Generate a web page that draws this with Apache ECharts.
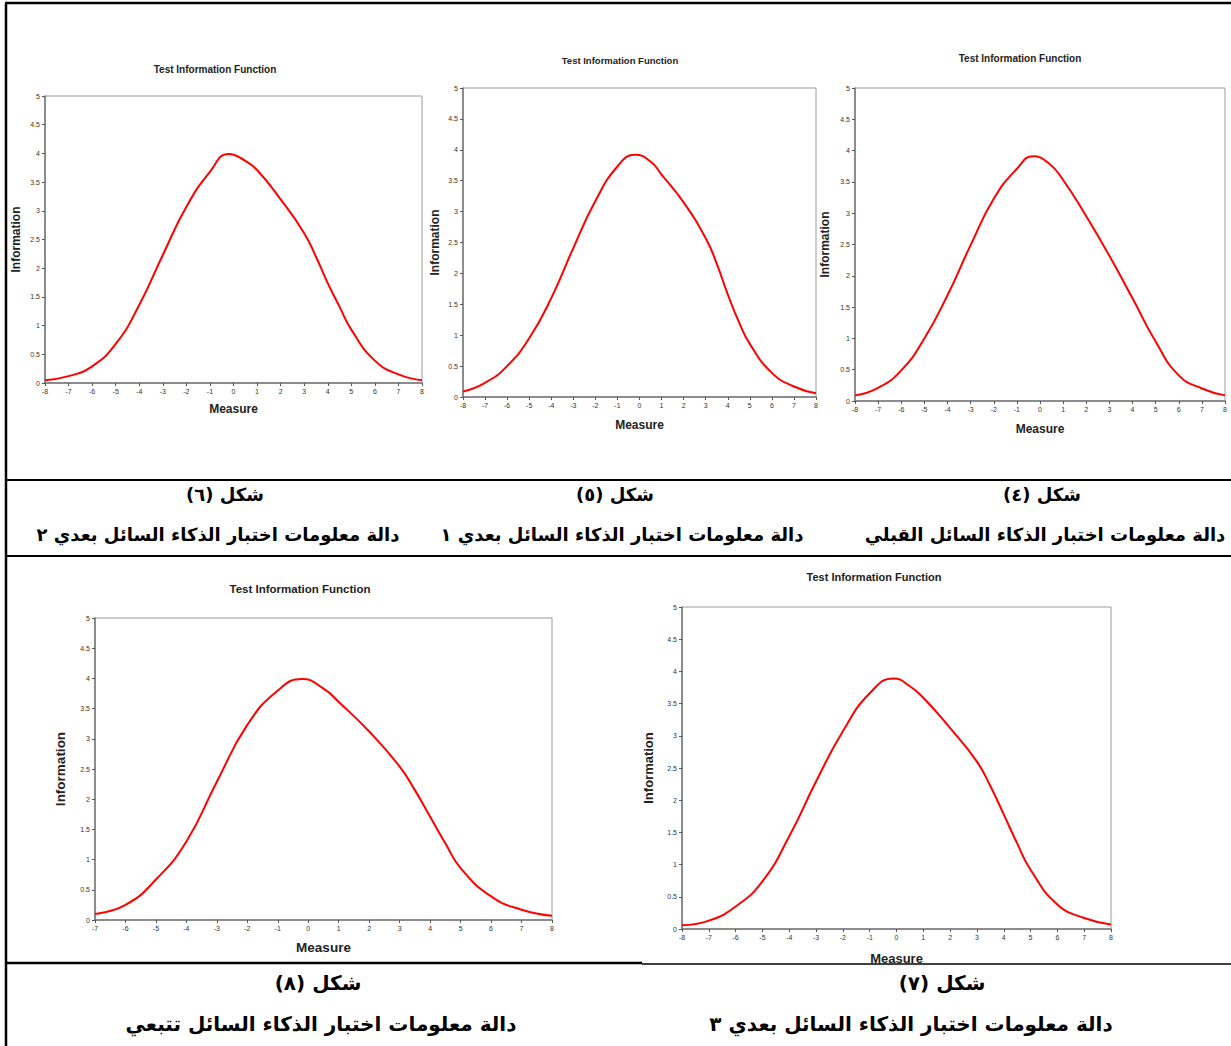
<!DOCTYPE html>
<html>
<head>
<meta charset="utf-8">
<title>Test Information Function</title>
<script src="https://cdn.jsdelivr.net/npm/echarts@6/dist/echarts.min.js"></script>
<style>
  html, body { margin: 0; padding: 0; background: #fff; }
  #chart { width: 1231px; height: 1046px; }
</style>
</head>
<body>
<div id="chart"></div>
<script>
// values, one pair of arrays per figure
var measure6 = [-8, -7, -6, -5, -4, -3, -2, -1, -0.2, 0.5, 1, 2, 3, 3.5, 4, 4.5, 5, 6, 7, 8];
var info6    = [0.05, 0.12, 0.29, 0.68, 1.36, 2.23, 3.07, 3.68, 3.99, 3.87, 3.71, 3.20, 2.61, 2.20, 1.74, 1.33, 0.93, 0.39, 0.15, 0.05];

var measure5 = [-8, -7, -6, -5, -4, -3, -2, -1, -0.2, 0.5, 1, 2, 3, 3.5, 4, 4.5, 5, 6, 7, 8];
var info5    = [0.09, 0.23, 0.50, 0.95, 1.60, 2.41, 3.17, 3.73, 3.92, 3.81, 3.60, 3.15, 2.57, 2.16, 1.66, 1.22, 0.86, 0.39, 0.17, 0.06];

var measure4 = [-8, -7, -6, -5, -4, -3, -2, -1, -0.3, 0.4, 1, 2, 3, 4, 5, 6, 7, 8];
var info4    = [0.09, 0.21, 0.49, 1.00, 1.69, 2.49, 3.23, 3.71, 3.91, 3.79, 3.53, 2.95, 2.32, 1.64, 0.95, 0.41, 0.20, 0.09];

var measure8 = [-7, -6, -5, -4, -3, -2, -1, -0.2, 0.5, 1, 2, 3, 3.5, 4, 4.5, 5, 6, 7, 8];
var info8    = [0.10, 0.25, 0.67, 1.30, 2.29, 3.23, 3.80, 3.99, 3.83, 3.61, 3.12, 2.54, 2.15, 1.71, 1.27, 0.86, 0.39, 0.17, 0.07];

var measure7 = [-8, -7, -6, -5, -4, -3, -2, -1, -0.1, 0.5, 1, 2, 3, 3.5, 4, 4.5, 5, 6, 7, 8];
var info7    = [0.06, 0.13, 0.35, 0.74, 1.44, 2.29, 3.07, 3.66, 3.89, 3.77, 3.59, 3.12, 2.60, 2.22, 1.78, 1.33, 0.92, 0.38, 0.17, 0.07];

// axis ranges
var yMin = 0, yMax = 5, yStep = 0.5;
var xMinList = [-8, -8, -8, -7, -8];
var xMax = 8;

// captions (figure number, description)
var figNames = ['شكل (٦)', 'شكل (٥)', 'شكل (٤)', 'شكل (٨)', 'شكل (٧)'];
var figTexts = [
    'دالة معلومات اختبار الذكاء السائل بعدي ٢',
    'دالة معلومات اختبار الذكاء السائل بعدي ١',
    'دالة معلومات اختبار الذكاء السائل القبلي',
    'دالة معلومات اختبار الذكاء السائل تتبعي',
    'دالة معلومات اختبار الذكاء السائل بعدي ٣'
];

var chartTitle = 'Test Information Function';
var xName = 'Measure';
var yName = 'Information';

// layout of each panel
var panels = [
    {grid: [45, 96, 377, 287],  title: [215, 70, 10],  xGap: 20, yGap: 23, nameSize: 12, capSize: 18, cap: [225, 494, 218, 534]},
    {grid: [463, 88, 353, 309], title: [620, 61, 9.5], xGap: 22, yGap: 22, nameSize: 12, capSize: 18, cap: [615, 494, 622, 534]},
    {grid: [855, 88, 370, 313], title: [1020, 59, 10], xGap: 22, yGap: 24, nameSize: 12, capSize: 18, cap: [1042, 494, 1045, 534]},
    {grid: [95, 618, 457, 302], title: [300, 590, 11.5], xGap: 20, yGap: 28, nameSize: 13.5, capSize: 20, cap: [318, 983, 321, 1024]},
    {grid: [682, 607, 429, 322], title: [874, 578, 11], xGap: 23, yGap: 27, nameSize: 13, capSize: 20, cap: [942, 983, 911, 1024]}
];
var measures = [measure6, measure5, measure4, measure8, measure7];
var infos = [info6, info5, info4, info8, info7];

// keep the Arabic captions in right-to-left order
function rtl(s) {
    return '\u202B' + s + '\u202C';
}

var myChart = echarts.init(document.getElementById('chart'), null, {renderer: 'svg'});

var grids = [], xAxes = [], yAxes = [], series = [], titles = [], graphics = [];

panels.forEach(function (p, i) {
    grids.push({
        left: p.grid[0], top: p.grid[1], width: p.grid[2], height: p.grid[3],
        show: true, borderColor: '#9a9a9a', borderWidth: 1, backgroundColor: '#fff'
    });
    xAxes.push({
        gridIndex: i, type: 'value', min: xMinList[i], max: xMax, interval: 1,
        name: xName, nameLocation: 'middle', nameGap: p.xGap,
        nameTextStyle: {fontFamily: 'Liberation Sans', fontWeight: 'bold', fontSize: p.nameSize, color: '#222'},
        axisLine: {show: true, onZero: false, lineStyle: {color: '#777', width: 1.5}},
        axisTick: {show: true, inside: false, length: 3, lineStyle: {color: '#555'}},
        axisLabel: {fontFamily: 'Liberation Sans', fontSize: 7, color: '#333', margin: 5},
        splitLine: {show: false}
    });
    yAxes.push({
        gridIndex: i, type: 'value', min: yMin, max: yMax, interval: yStep,
        name: yName, nameLocation: 'middle', nameGap: p.yGap,
        nameTextStyle: {fontFamily: 'Liberation Sans', fontWeight: 'bold', fontSize: p.nameSize, color: '#222'},
        axisLine: {show: true, onZero: false, lineStyle: {color: '#777', width: 1.5}},
        axisTick: {show: true, inside: false, length: 3, lineStyle: {color: '#555'}},
        axisLabel: {fontFamily: 'Liberation Sans', fontSize: 7, color: '#333', margin: 5},
        splitLine: {show: false}
    });
    series.push({
        type: 'line', xAxisIndex: i, yAxisIndex: i,
        data: measures[i].map(function (m, k) { return [m, infos[i][k]]; }),
        smooth: 0.5, showSymbol: false,
        lineStyle: {color: '#ff0000', width: 2}
    });
    titles.push({
        text: chartTitle, left: p.title[0], top: p.title[1] - p.title[2] / 2 - 1, textAlign: 'center', padding: 0,
        textStyle: {fontFamily: 'Liberation Sans', fontWeight: 'bold', fontSize: p.title[2], color: '#222'}
    });
    graphics.push({
        type: 'text', x: p.cap[0], y: p.cap[1],
        style: {text: rtl(figNames[i]), align: 'center', verticalAlign: 'middle',
                fontFamily: '"DejaVu Sans", sans-serif', fontWeight: 'bold', fontSize: p.capSize, fill: '#000'}
    });
    graphics.push({
        type: 'text', x: p.cap[2], y: p.cap[3],
        style: {text: rtl(figTexts[i]), align: 'center', verticalAlign: 'middle',
                fontFamily: '"DejaVu Sans", sans-serif', fontWeight: 'bold', fontSize: p.capSize, fill: '#000'}
    });
});

// table ruling
var rules = [
    [6, 3, 6, 1046, 2.5],
    [5, 3, 1231, 3, 2.5],
    [5, 480, 1231, 480, 2],
    [5, 556, 1231, 556, 2],
    [5, 963, 642, 963, 2.5],
    [642, 964, 1231, 964, 1.5]
];
rules.forEach(function (r) {
    graphics.push({
        type: 'line', z: 100,
        shape: {x1: r[0], y1: r[1], x2: r[2], y2: r[3]},
        style: {stroke: '#000', lineWidth: r[4]}
    });
});

var option = {
    backgroundColor: '#fff',
    animation: false,
    title: titles,
    grid: grids,
    xAxis: xAxes,
    yAxis: yAxes,
    series: series,
    graphic: graphics
};

myChart.setOption(option);
</script>
</body>
</html>
